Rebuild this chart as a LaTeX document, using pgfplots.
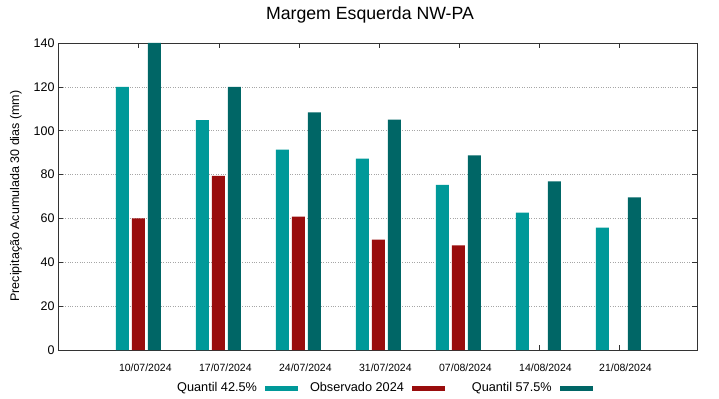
\documentclass[border=0pt]{standalone}
\usepackage{pgfplots}
\pgfplotsset{compat=1.18}
\usepackage{fontspec}
\setmainfont{Liberation Sans}
\definecolor{qlow}{RGB}{0,153,153}
\definecolor{qhigh}{RGB}{0,102,102}
\definecolor{obs}{RGB}{153,13,13}
\pgfplotsset{
  legbar/.style={legend image code/.code={\fill[##1] (0bp,-2.5bp) rectangle (33bp,2.5bp);}},
}
\begin{document}
\begin{tikzpicture}
\begin{axis}[
  scale only axis,
  width=639bp, height=307bp,
  xmin=-1.01, xmax=6.975,
  ymin=0, ymax=140,
  xtick={0,1,2,3,4,5,6},
  xticklabels={10/07/2024,17/07/2024,24/07/2024,31/07/2024,07/08/2024,14/08/2024,21/08/2024},
  ytick={0,20,40,60,80,100,120,140},
  tick align=inside,
  major tick length=5bp,
  axis line style={black!80, line width=0.8pt},
  tick style={black!80, line width=0.7pt},
  ymajorgrids,
  grid style={gray!70, dotted, line width=0.6pt},
  x tick label style={font=\fontsize{10.5bp}{12bp}\selectfont, xshift=6.5bp, yshift=-10bp},
  y tick label style={font=\fontsize{12.5bp}{15bp}\selectfont},
  /pgf/number format/assume math mode=true,
  legend columns=3,
  legend plot pos=right,
  legend style={draw=none, fill=none, at={(0.5101,-0.124)}, anchor=center,
    font=\fontsize{12.7bp}{15bp}\selectfont,
    /tikz/every odd column/.append style={column sep=6bp},
    /tikz/column 2/.append style={column sep=10bp},
    /tikz/column 4/.append style={column sep=25bp}},
]
\addplot[ybar, bar width=13bp, bar shift=-16.5bp, fill=qlow, draw=none, legbar] coordinates {
(0,120) (1,104.8) (2,91.4) (3,87.3) (4,75.3) (5,62.7) (6,55.8)};
\addlegendentry{Quantil 42.5\%}
\addplot[ybar, bar width=13bp, bar shift=-0.5bp, fill=obs, draw=none, legbar] coordinates {
(0,60) (1,79.4) (2,60.8) (3,50.3) (4,47.7)};
\addlegendentry{Observado 2024}
\addplot[ybar, bar width=13bp, bar shift=15.5bp, fill=qhigh, draw=none, legbar] coordinates {
(0,140) (1,120) (2,108.4) (3,105.1) (4,88.8) (5,76.9) (6,69.6)};
\addlegendentry{Quantil 57.5\%}
\end{axis}
\node[font=\fontsize{17.7bp}{21bp}\selectfont] at (312bp,335bp) {Margem Esquerda NW-PA};
\node[rotate=90, font=\fontsize{12.5bp}{15bp}\selectfont] at (-42bp,154bp) {Precipitação Acumulada 30 dias (mm)};
\pgfresetboundingbox
\path[use as bounding box] (-58bp,-49bp) rectangle (661bp,350bp);
\end{tikzpicture}
\end{document}
